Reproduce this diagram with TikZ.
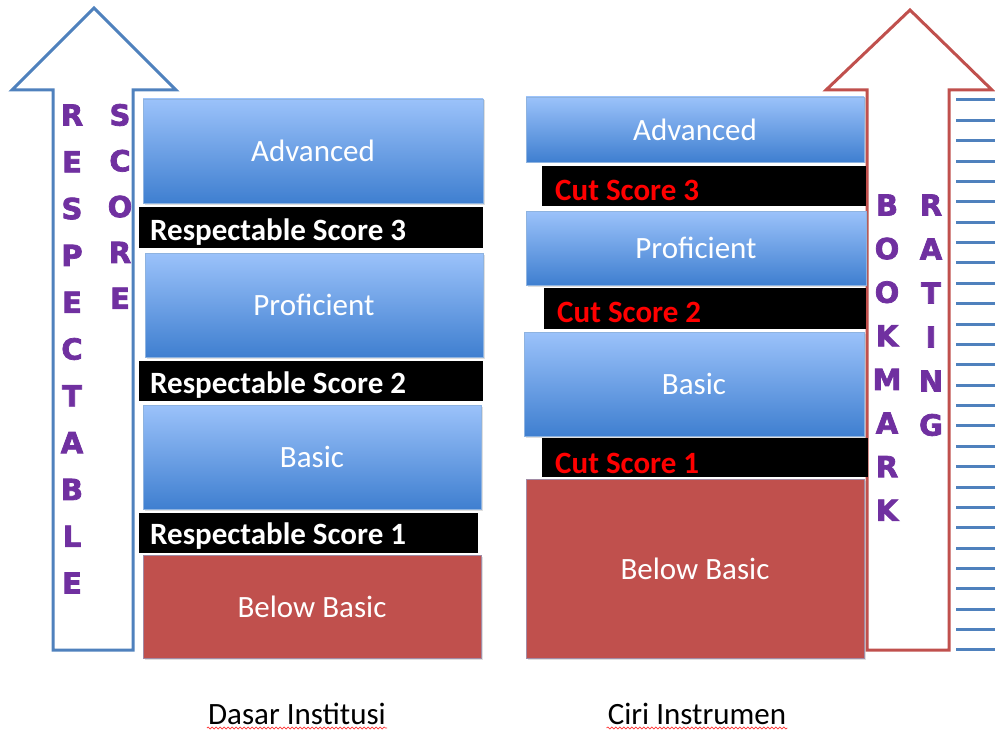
\documentclass[tikz,border=0pt]{standalone}
\usepackage{fontspec}
\setmainfont{Carlito}
\newfontfamily\heavyfont[FakeBold=2.5]{DejaVu Sans Bold}
\usetikzlibrary{decorations.pathmorphing,shadows}
\definecolor{boxtop}{HTML}{9BC2FA}
\definecolor{boxbot}{HTML}{3F7FD0}
\definecolor{boxedge}{HTML}{8EB3E0}
\definecolor{belowred}{HTML}{C0504D}
\definecolor{arrblue}{HTML}{4F81BD}
\definecolor{arrred}{HTML}{C0504D}
\definecolor{letterpurple}{HTML}{7030A0}
\definecolor{cutred}{HTML}{FF0000}
\tikzset{
  levelbox/.style={draw=boxedge, line width=0.8pt, top color=boxtop, bottom color=boxbot,
    text=white, font=\fontsize{31}{33}\selectfont, inner sep=0pt,
    drop shadow={shadow xshift=1.5pt, shadow yshift=-1.5pt, opacity=0.25}},
  belowbox/.style={fill=belowred, draw=boxedge!60!belowred, line width=0.8pt,
    text=white, font=\fontsize{31}{33}\selectfont, inner sep=0pt,
    drop shadow={shadow xshift=1.5pt, shadow yshift=-1.5pt, opacity=0.25}},
  scorebar/.style={fill=black, draw=none, inner sep=0pt},
  scoretext/.style={anchor=west, font=\bfseries\fontsize{31}{33}\selectfont, inner sep=0pt},
  bigarrow/.style={line width=3pt, line join=miter, fill=white},
  vletter/.style={text=letterpurple, font=\heavyfont\fontsize{29}{31}\selectfont, inner sep=0pt},
  caption/.style={font=\fontsize{31}{33}\selectfont, inner sep=1pt},
  squiggle/.style={draw=red!80, line width=0.7pt, decorate,
    decoration={snake, segment length=4pt, amplitude=1pt}},
  rung/.style={draw=arrblue, line width=3pt}
}
\begin{document}
\begin{tikzpicture}[x=1pt,y=-1pt]
\useasboundingbox (0,0) rectangle (995,738);

% arrows
\draw[bigarrow, draw=arrblue] (53,650) -- (53,90) -- (12,90) -- (94,8) -- (176,90) -- (133,90) -- (133,650) -- cycle;
\draw[bigarrow, draw=arrred] (867,650) -- (867,90) -- (826,90) -- (910,10) -- (992,90) -- (949,90) -- (949,650) -- cycle;

% rungs at the right
\foreach \k in {0,...,27}
  \draw[rung] (956,{100+\k*20.37}) -- (995,{100+\k*20.37});

% left column
\node[levelbox, minimum width=340pt, minimum height=104pt] (advL) at (313,151) {Advanced};
\node[scorebar, minimum width=344pt, minimum height=41pt] (rs3) at (311,227.5) {};
\node[scoretext, text=white] (rs3t) at (150,232) {Respectable Score 3};
\node[levelbox, minimum width=338pt, minimum height=104pt] (profL) at (314,305) {Proficient};
\node[scorebar, minimum width=344pt, minimum height=40pt] (rs2) at (311,381) {};
\node[scoretext, text=white] (rs2t) at (150,385) {Respectable Score 2};
\node[levelbox, minimum width=338pt, minimum height=104pt] (basicL) at (312,457) {Basic};
\node[scorebar, minimum width=339pt, minimum height=40pt] (rs1) at (308.5,533) {};
\node[scoretext, text=white] (rs1t) at (150,536) {Respectable Score 1};
\node[belowbox, minimum width=338pt, minimum height=103pt] (belowL) at (312,606.5) {Below Basic};

% right column
\node[levelbox, minimum width=338pt, minimum height=65pt] (advR) at (695,129.5) {Advanced};
\node[scorebar, minimum width=324pt, minimum height=40pt] (cs3) at (704,186) {};
\node[scoretext, text=cutred] (cs3t) at (555,190) {Cut Score 3};
\node[levelbox, minimum width=340pt, minimum height=74pt] (profR) at (696,248) {Proficient};
\node[scorebar, minimum width=322pt, minimum height=41pt] (cs2) at (705,308.5) {};
\node[scoretext, text=cutred] (cs2t) at (557,312) {Cut Score 2};
\node[levelbox, minimum width=340pt, minimum height=104pt] (basicR) at (694,384) {Basic};
\node[scorebar, minimum width=326pt, minimum height=39pt] (cs1) at (705,457.5) {};
\node[scoretext, text=cutred] (cs1t) at (555,463) {Cut Score 1};
\node[belowbox, minimum width=338pt, minimum height=179pt] (belowR) at (695,568.5) {Below Basic};

% vertical words
\foreach \l [count=\i] in {R,E,S,P,E,C,T,A,B,L,E}
  \node[vletter] (resp\i) at (72,{115+(\i-1)*46.8}) {\l};
\foreach \l [count=\i] in {S,C,O,R,E}
  \node[vletter] (score\i) at (120,{115+(\i-1)*45.8}) {\l};
\foreach \l [count=\i] in {B,O,O,K,M,A,R,K}
  \node[vletter] (book\i) at (887,{205+(\i-1)*43.6}) {\l};
\foreach \l [count=\i] in {R,A,T,I,N,G}
  \node[vletter] (rate\i) at (931,{205+(\i-1)*44}) {\l};

% captions
\node[caption] (dasar) at (297,714) {Dasar Institusi};
\node[caption] (ciri) at (697,714) {Ciri Instrumen};
\draw[squiggle] ([yshift=-2pt]dasar.south west) -- ([yshift=-2pt]dasar.south east);
\draw[squiggle] ([yshift=-2pt]ciri.south west) -- ([yshift=-2pt]ciri.south east);
\end{tikzpicture}
\end{document}
